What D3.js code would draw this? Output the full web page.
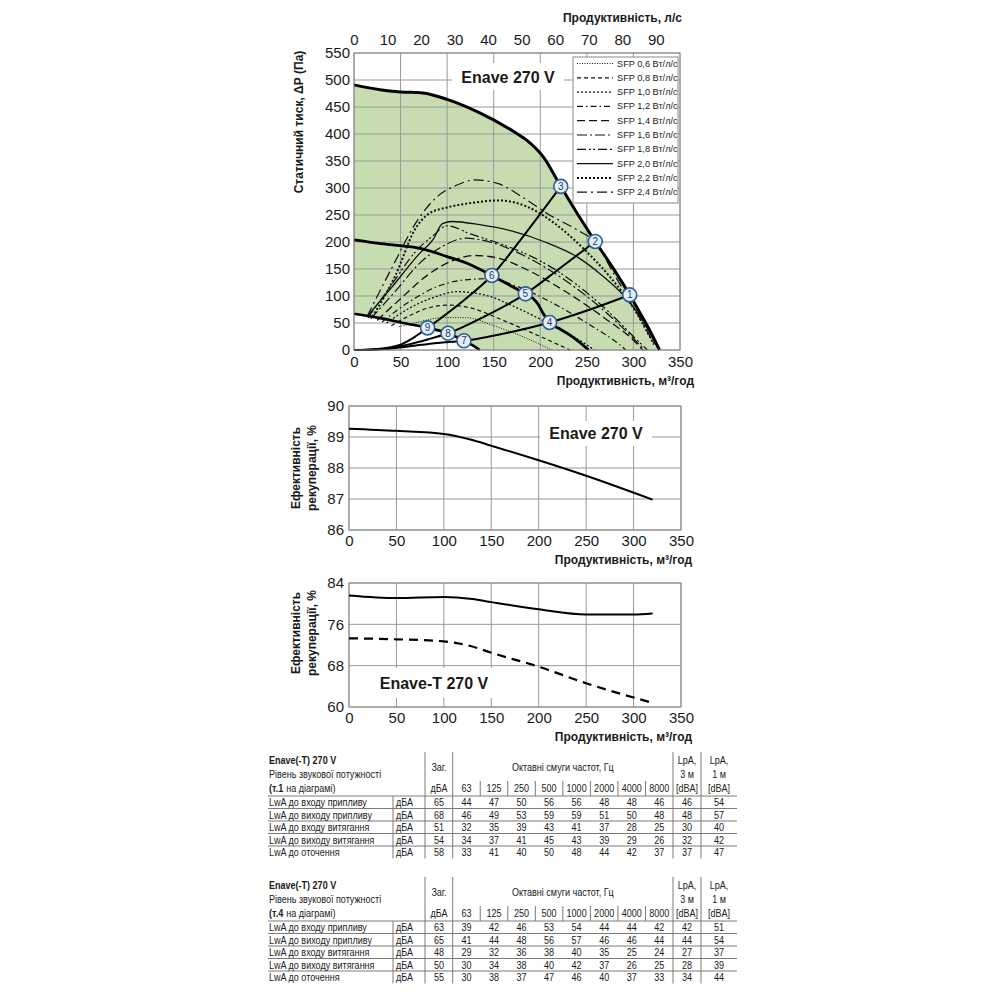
<!DOCTYPE html>
<html>
<head>
<meta charset="utf-8">
<script src="https://d3js.org/d3.v7.min.js"></script>
<style>
  body { margin: 0; background: #fff; }
  svg { font-family: "Liberation Sans", Arial, sans-serif; }
  .axis-title { font-weight: bold; font-size: 12px; fill: #1a1a1a; }
  .tbl { font-size: 11px; fill: #1a1a1a; }
</style>
</head>
<body>
<script>
// ---------- data: fan chart ----------
var flowTicks = [0, 50, 100, 150, 200, 250, 300, 350];
var lpsTicks = [0, 10, 20, 30, 40, 50, 60, 70, 80, 90];
var pressureTicks = [0, 50, 100, 150, 200, 250, 300, 350, 400, 450, 500, 550];

var maxCurve = [[0,491],[28,482],[50,478],[74,476],[100,464],[135,439],[171,405],[185,389],[203,358],[222,303],[240,252],[259,201],[278,152],[296,102],[305,75],[318,35],[328,0]];
var midCurve = [[0,204],[20,199],[39,195],[71,188],[100,173],[125,158],[148,138],[165,122],[184,104],[192,96],[198,84],[203,68],[210,51],[222,38],[235,24],[252,0]];
var minCurve = [[0,67],[28,59],[56,49],[79,41],[101,31],[118,17],[128,8],[135,0]];

var systemA = [[0,0],[25,2],[50,10],[65,24],[79,41],[115,88],[148,138],[185,218],[222,303]];
var systemB = [[0,0],[30,2],[55,9],[80,20],[101,31],[140,62],[184,104],[220,150],[259,201]];
var systemC = [[0,0],[35,2],[60,7],[90,13],[118,17],[165,32],[210,51],[255,76],[296,102]];

var pointLabels = [1, 2, 3, 4, 5, 6, 7, 8, 9];
var pointFlow = [296, 259, 222, 210, 184, 148, 118, 101, 79];
var pointPressure = [102, 201, 303, 51, 104, 138, 17, 31, 41];

var sfpLabels = ["SFP 0,6 Вт/л/с","SFP 0,8 Вт/л/с","SFP 1,0 Вт/л/с","SFP 1,2 Вт/л/с","SFP 1,4 Вт/л/с","SFP 1,6 Вт/л/с","SFP 1,8 Вт/л/с","SFP 2,0 Вт/л/с","SFP 2,2 Вт/л/с","SFP 2,4 Вт/л/с"];
var sfp06 = [[48,43],[70,52],[95,60],[120,60],[150,45],[185,22],[212,0]];
var sfp08 = [[40,45],[60,64],[80,78],[100,83],[125,78],[160,55],[200,25],[232,0]];
var sfp10 = [[35,50],[60,78],[85,97],[110,108],[140,102],[175,78],[210,48],[245,15],[258,0]];
var sfp12 = [[30,52],[60,90],[90,118],[120,130],[145,132],[175,118],[210,90],[250,50],[285,10],[292,0]];
var sfp14 = [[25,55],[50,95],[80,140],[105,165],[130,175],[155,170],[190,145],[230,105],[270,58],[300,18],[310,0]];
var sfp16 = [[18,58],[45,110],[70,160],[95,192],[120,207],[150,198],[190,168],[230,125],[265,78],[295,30],[312,0]];
var sfp18 = [[15,60],[40,120],[65,180],[85,212],[100,230],[125,215],[160,195],[200,165],[240,120],[275,68],[300,25],[315,0]];
var sfp20 = [[14,62],[40,115],[70,178],[85,205],[95,234],[105,238],[135,232],[170,220],[205,200],[240,172],[265,140],[290,100],[310,55],[326,4]];
var sfp22 = [[20,62],[45,140],[65,222],[80,252],[100,264],[125,272],[155,277],[185,266],[215,235],[245,190],[275,135],[300,78],[322,10]];
var sfp24 = [[14,62],[40,150],[70,245],[90,285],[110,305],[130,315],[155,308],[180,284],[210,250],[240,222],[259,199],[280,138],[300,80],[322,12]];

// ---------- data: heat recovery efficiency ----------
var effTicks90 = [86, 87, 88, 89, 90];
var effTicks84 = [60, 68, 76, 84];
var effEnave = [[0,89.27],[50,89.2],[100,89.1],[128,88.92],[150,88.72],[200,88.25],[250,87.75],[320,86.98]];
var effEnaveTSolid = [[0,81.6],[50,81.1],[100,81.3],[130,80.9],[150,80.3],[200,78.9],[250,77.9],[300,77.9],[320,78.1]];
var effEnaveTDashed = [[0,73.3],[50,73.1],[100,72.7],[128,71.8],[150,70.5],[200,67.8],[250,64.6],[320,60.8]];

// ---------- data: sound tables ----------
var octaveBands = ["63","125","250","500","1000","2000","4000","8000"];
var rowLabels = ["LwA до входу припливу","LwA до виходу припливу","LwA до входу витягання","LwA до виходу витягання","LwA до оточення"];
var t1Total = [65, 68, 51, 54, 58];
var t1Octaves = [[44,47,50,56,56,48,48,46],[46,49,53,59,59,51,50,48],[32,35,39,43,41,37,28,25],[34,37,41,45,43,39,29,26],[33,41,40,50,48,44,42,37]];
var t1Lpa3 = [46, 48, 30, 32, 37];
var t1Lpa1 = [54, 57, 40, 42, 47];
var t4Total = [63, 65, 48, 50, 55];
var t4Octaves = [[39,42,46,53,54,44,44,42],[41,44,48,56,57,46,46,44],[29,32,36,38,40,35,25,24],[30,34,38,40,42,37,26,25],[30,38,37,47,46,40,37,33]];
var t4Lpa3 = [42, 44, 27, 28, 34];
var t4Lpa1 = [51, 54, 37, 39, 44];

var svg = d3.select("body").append("svg").attr("width", 1000).attr("height", 1000);
svg.append("rect").attr("width", 1000).attr("height", 1000).attr("fill", "#fff");

function styleAxis(g, fs) {
    g.attr("font-family", null).attr("font-size", null);
    g.select(".domain").remove();
    g.selectAll(".tick line").remove();
    g.selectAll(".tick text").attr("font-size", fs).attr("fill", "#1a1a1a");
}

function drawGrid(x, y, xt, yt) {
    var g = svg.append("g").attr("stroke", "#999").attr("stroke-width", 1);
    g.selectAll(".gx").data(xt).enter().append("line")
        .attr("x1", d => x(d)).attr("x2", d => x(d))
        .attr("y1", y.range()[0]).attr("y2", y.range()[1]);
    g.selectAll(".gy").data(yt).enter().append("line")
        .attr("y1", d => y(d)).attr("y2", d => y(d))
        .attr("x1", x.range()[0]).attr("x2", x.range()[1]);
}

// =============== chart 1: fan curves ===============
var x1 = d3.scaleLinear().domain([0, 350]).range([354, 680]);
var y1 = d3.scaleLinear().domain([0, 550]).range([350, 53]);
var xLps = d3.scaleLinear().domain([0, 350 / 3.6]).range([354, 680]);

var line1 = d3.line().x(d => x1(d[0])).y(d => y1(d[1])).curve(d3.curveMonotoneX);

// green working zone
var areaPath = line1(maxCurve) + "L" + x1(135) + "," + y1(0) +
    line1(minCurve.slice().reverse()).replace(/^M/, "L") + "Z";
svg.append("path").attr("d", areaPath).attr("fill", "#c7ddb1");

drawGrid(x1, y1, flowTicks, pressureTicks);

svg.append("rect").attr("x", 452).attr("y", 63).attr("width", 112).attr("height", 27).attr("fill", "#fff");
svg.append("text").attr("x", 508).attr("y", 77).attr("text-anchor", "middle")
    .attr("dominant-baseline", "central").attr("font-weight", "bold").attr("font-size", 16)
    .attr("fill", "#1a1a1a").text("Enave 270 V");

// SFP curves
var sfpCurves = [sfp06, sfp08, sfp10, sfp12, sfp14, sfp16, sfp18, sfp20, sfp22, sfp24];
var sfpDash = ["1,1.5", "4,3", "2,2", "6,3,1.5,3", "8,4", "10,3,2,3", "9,3,2,2,2,3", null, "2,2", "10,4,2,4"];
var sfpWidth = [1, 1.2, 1.3, 1.2, 1.3, 1.2, 1.2, 1.3, 2, 1.2];
svg.append("g").selectAll("path").data(sfpCurves).enter().append("path")
    .attr("d", line1).attr("fill", "none").attr("stroke", "#111")
    .attr("stroke-width", (d, i) => sfpWidth[i])
    .attr("stroke-dasharray", (d, i) => sfpDash[i]);

// system curves
svg.append("g").selectAll("path").data([systemA, systemB, systemC]).enter().append("path")
    .attr("d", line1).attr("fill", "none").attr("stroke", "#000").attr("stroke-width", 2);

// fan limit curves
svg.append("path").attr("d", line1(maxCurve)).attr("fill", "none").attr("stroke", "#000").attr("stroke-width", 3);
svg.append("path").attr("d", line1(midCurve)).attr("fill", "none").attr("stroke", "#000").attr("stroke-width", 2.8);
svg.append("path").attr("d", line1(minCurve)).attr("fill", "none").attr("stroke", "#000").attr("stroke-width", 2.6);

svg.append("rect").attr("x", x1(0)).attr("y", y1(550)).attr("width", x1(350) - x1(0))
    .attr("height", y1(0) - y1(550)).attr("fill", "none").attr("stroke", "#8a8a8a");

// operating points
var pts = svg.append("g").selectAll("g").data(pointLabels).enter().append("g")
    .attr("transform", (d, i) => "translate(" + x1(pointFlow[i]) + "," + y1(pointPressure[i]) + ")");
pts.append("circle").attr("r", 7).attr("fill", "#e4eef8").attr("stroke", "#2f5f96").attr("stroke-width", 1.6);
pts.append("text").attr("text-anchor", "middle").attr("dominant-baseline", "central")
    .attr("font-size", 10).attr("fill", "#1d3c66").text(d => d);

// legend
var lg = svg.append("g").attr("transform", "translate(573,57)");
lg.append("rect").attr("width", 105).attr("height", 146).attr("fill", "#fff").attr("stroke", "#8a8a8a");
var li = lg.selectAll("g").data(sfpLabels).enter().append("g")
    .attr("transform", (d, i) => "translate(0," + (6.5 + i * 14.3) + ")");
li.append("line").attr("x1", 4).attr("x2", 40).attr("stroke", "#111")
    .attr("stroke-width", (d, i) => sfpWidth[i]).attr("stroke-dasharray", (d, i) => sfpDash[i]);
li.append("text").attr("x", 44).attr("dominant-baseline", "central").attr("font-size", 9.2)
    .attr("fill", "#1a1a1a").text(d => d);

svg.append("g").attr("transform", "translate(0,350)")
    .call(d3.axisBottom(x1).tickValues(flowTicks).tickSize(0).tickPadding(6)).call(styleAxis, 15);
svg.append("g").attr("transform", "translate(354,0)")
    .call(d3.axisLeft(y1).tickValues(pressureTicks).tickSize(0).tickPadding(4)).call(styleAxis, 15);
svg.append("g").attr("transform", "translate(0,53)")
    .call(d3.axisTop(xLps).tickValues(lpsTicks).tickSize(0).tickPadding(8)).call(styleAxis, 15);

svg.append("text").attr("class", "axis-title").attr("x", 682).attr("y", 18)
    .attr("text-anchor", "end").attr("dominant-baseline", "central").text("Продуктивність, л/с");
svg.append("text").attr("class", "axis-title").attr("x", 694).attr("y", 381)
    .attr("text-anchor", "end").attr("dominant-baseline", "central").text("Продуктивність, м³/год");
svg.append("text").attr("class", "axis-title").attr("transform", "translate(299,122) rotate(-90)")
    .attr("text-anchor", "middle").attr("dominant-baseline", "central").text("Статичний тиск, ΔР (Па)");

// =============== charts 2 and 3: efficiency ===============
var x2 = d3.scaleLinear().domain([0, 350]).range([349, 681]);
var y2 = d3.scaleLinear().domain([86, 90]).range([530, 406]);
var y3 = d3.scaleLinear().domain([60, 84]).range([707, 583]);

function effChart(y, ticks, labelY) {
    drawGrid(x2, y, flowTicks, ticks);
    svg.append("rect").attr("x", x2(0)).attr("y", y.range()[1]).attr("width", x2(350) - x2(0))
        .attr("height", y.range()[0] - y.range()[1]).attr("fill", "none").attr("stroke", "#8a8a8a");
    svg.append("g").attr("transform", "translate(0," + y.range()[0] + ")")
        .call(d3.axisBottom(x2).tickValues(flowTicks).tickSize(0).tickPadding(5)).call(styleAxis, 15);
    svg.append("g").attr("transform", "translate(" + x2(0) + ",0)")
        .call(d3.axisLeft(y).tickValues(ticks).tickFormat(d3.format("d")).tickSize(0).tickPadding(5)).call(styleAxis, 15);
    svg.append("text").attr("class", "axis-title").attr("x", 692).attr("y", y.range()[0] + 30)
        .attr("text-anchor", "end").attr("dominant-baseline", "central").text("Продуктивність, м³/год");
    var t = svg.append("text").attr("class", "axis-title").attr("font-size", 12.5)
        .attr("transform", "translate(302," + labelY + ") rotate(-90)").attr("text-anchor", "middle");
    t.append("tspan").attr("x", 0).attr("dy", "-0.15em").text("Ефективність");
    t.append("tspan").attr("x", 0).attr("dy", "1.3em").text("рекуперації, %");
}

effChart(y2, effTicks90, 468);
svg.append("rect").attr("x", 540).attr("y", 421).attr("width", 112).attr("height", 25).attr("fill", "#fff");
svg.append("text").attr("x", 596).attr("y", 433).attr("text-anchor", "middle").attr("dominant-baseline", "central")
    .attr("font-weight", "bold").attr("font-size", 16).attr("fill", "#1a1a1a").text("Enave 270 V");
var line2 = d3.line().x(d => x2(d[0])).y(d => y2(d[1])).curve(d3.curveMonotoneX);
svg.append("path").attr("d", line2(effEnave)).attr("fill", "none").attr("stroke", "#000").attr("stroke-width", 2);

effChart(y3, effTicks84, 633);
svg.append("rect").attr("x", 370).attr("y", 668).attr("width", 128).attr("height", 30).attr("fill", "#fff");
svg.append("text").attr("x", 434).attr("y", 683).attr("text-anchor", "middle").attr("dominant-baseline", "central")
    .attr("font-weight", "bold").attr("font-size", 16).attr("fill", "#1a1a1a").text("Enave-T 270 V");
var line3 = d3.line().x(d => x2(d[0])).y(d => y3(d[1])).curve(d3.curveMonotoneX);
svg.append("path").attr("d", line3(effEnaveTSolid)).attr("fill", "none").attr("stroke", "#000").attr("stroke-width", 2);
svg.append("path").attr("d", line3(effEnaveTDashed)).attr("fill", "none").attr("stroke", "#000")
    .attr("stroke-width", 2.2).attr("stroke-dasharray", "9,6");

// =============== sound tables ===============
var band = d3.scaleBand().domain(octaveBands).range([452.7, 673]);
var colTotal = 439, colLpa3 = 687, colLpa1 = 719, colUnit = 396, left = 269, right = 737;

function drawTable(top, pointNo, total, oct, lpa3, lpa1) {
    var g = svg.append("g").attr("class", "tbl");
    var rowTop = top + 44, rh = 12.5;
    var ln = g.append("g").attr("stroke", "#7a7a7a").attr("stroke-width", 1);
    ln.append("line").attr("x1", left - 1).attr("x2", right).attr("y1", rowTop).attr("y2", rowTop);
    ln.selectAll(".rs").data([1, 2, 3, 4]).enter().append("line")
        .attr("x1", left - 1).attr("x2", right).attr("y1", d => rowTop + d * rh).attr("y2", d => rowTop + d * rh);
    ln.selectAll(".vs").data([425, 452.7, 673, 701]).enter().append("line")
        .attr("x1", d => d).attr("x2", d => d).attr("y1", top).attr("y2", rowTop + 5 * rh);
    ln.append("line").attr("x1", 393).attr("x2", 393).attr("y1", rowTop).attr("y2", rowTop + 5 * rh);
    ln.selectAll(".fs").data(octaveBands.slice(1)).enter().append("line")
        .attr("x1", d => band(d)).attr("x2", d => band(d)).attr("y1", top + 29).attr("y2", rowTop);

    g.append("text").attr("x", left).attr("y", top + 8).attr("dominant-baseline", "central")
        .attr("font-weight", "bold").text("Enave(-T) 270 V");
    g.append("text").attr("x", left).attr("y", top + 22).attr("dominant-baseline", "central").text("Рівень звукової потужності");

    g.append("text").attr("x", colTotal).attr("y", top + 15).attr("text-anchor", "middle").attr("dominant-baseline", "central").text("Заг.");
    g.append("text").attr("x", colTotal).attr("y", top + 36).attr("text-anchor", "middle").attr("dominant-baseline", "central").text("дБА");
    g.append("text").attr("x", (452.7 + 673) / 2).attr("y", top + 15).attr("text-anchor", "middle").attr("dominant-baseline", "central").text("Октавні смуги частот, Гц");
    g.selectAll(".fh").data(octaveBands).enter().append("text")
        .attr("x", d => band(d) + band.bandwidth() / 2).attr("y", top + 36)
        .attr("text-anchor", "middle").attr("dominant-baseline", "central").text(d => d);
    [[colLpa3, "3 м"], [colLpa1, "1 м"]].forEach(function (c) {
        g.append("text").attr("x", c[0]).attr("y", top + 8).attr("text-anchor", "middle").attr("dominant-baseline", "central").text("LpA,");
        g.append("text").attr("x", c[0]).attr("y", top + 22).attr("text-anchor", "middle").attr("dominant-baseline", "central").text(c[1]);
        g.append("text").attr("x", c[0]).attr("y", top + 36).attr("text-anchor", "middle").attr("dominant-baseline", "central").text("[dBA]");
    });

    var rows = g.selectAll(".row").data(rowLabels).enter().append("g")
        .attr("transform", (d, i) => "translate(0," + (rowTop + rh * i + rh / 2) + ")");
    rows.append("text").attr("x", left).attr("dominant-baseline", "central").text(d => d);
    rows.append("text").attr("x", colUnit).attr("dominant-baseline", "central").text("дБА");
    rows.append("text").attr("x", colTotal).attr("text-anchor", "middle").attr("dominant-baseline", "central").text((d, i) => total[i]);
    rows.append("text").attr("x", colLpa3).attr("text-anchor", "middle").attr("dominant-baseline", "central").text((d, i) => lpa3[i]);
    rows.append("text").attr("x", colLpa1).attr("text-anchor", "middle").attr("dominant-baseline", "central").text((d, i) => lpa1[i]);
    rows.each(function (d, i) {
        d3.select(this).selectAll(".v").data(oct[i]).enter().append("text")
            .attr("x", (v, j) => band(octaveBands[j]) + band.bandwidth() / 2)
            .attr("text-anchor", "middle").attr("dominant-baseline", "central").text(v => v);
    });

    // point reference: bold "(т.N" followed by the plain rest
    var bold = g.append("text").attr("x", left).attr("y", top + 36).attr("dominant-baseline", "central")
        .attr("font-weight", "bold").text("(т." + pointNo);
    var bw = bold.node().getComputedTextLength() * 0.82;
    g.append("text").attr("x", left + bw + 3).attr("y", top + 36).attr("dominant-baseline", "central")
        .text("на діаграмі)");

    // narrow the glyphs a little, the source uses a condensed face
    g.selectAll("text").each(function () {
        var w = this.getComputedTextLength();
        d3.select(this).attr("textLength", w * 0.82).attr("lengthAdjust", "spacingAndGlyphs");
    });
}

drawTable(752, 1, t1Total, t1Octaves, t1Lpa3, t1Lpa1);
drawTable(877, 4, t4Total, t4Octaves, t4Lpa3, t4Lpa1);
</script>
</body>
</html>
